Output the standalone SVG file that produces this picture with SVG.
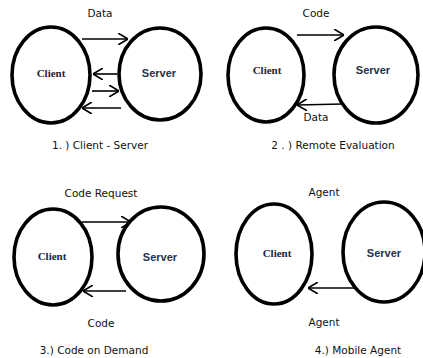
<svg xmlns="http://www.w3.org/2000/svg" width="423" height="358" viewBox="0 0 423 358">
  <style>
    .node { fill: none; stroke: #000; stroke-width: 3.6; }
    .client { font-family: "Liberation Serif", "DejaVu Serif", serif; font-weight: bold; font-size: 11px; fill: #1c2540; text-anchor: middle; }
    .server { font-family: "Liberation Sans", Arial, sans-serif; font-weight: bold; font-size: 11px; fill: #27314a; text-anchor: middle; }
    .label { font-family: "DejaVu Sans", Verdana, sans-serif; font-size: 10.5px; fill: #111; text-anchor: middle; }
    .conn line { stroke: #000; stroke-width: 1.6; marker-end: url(#arrow); }
  </style>
  <defs>
    <marker id="arrow" viewBox="0 0 10 12" markerWidth="10" markerHeight="12" refX="10" refY="6" orient="auto" markerUnits="userSpaceOnUse">
      <path d="M0,0 L10,6 L0,12" fill="none" stroke="#000" stroke-width="1.6"/>
    </marker>
  </defs>
  <rect width="423" height="358" fill="#fff"/>

  <!-- 1) Client - Server -->
  <g id="cs-client"><ellipse class="node" cx="51" cy="75" rx="39" ry="48"/><text class="client" x="51" y="77">Client</text></g>
  <g id="cs-server"><ellipse class="node" cx="160" cy="74" rx="41" ry="46"/><text class="server" x="159" y="77">Server</text></g>
  <g id="cs-connectors" class="conn">
    <line x1="82" y1="39" x2="128" y2="39"/>
    <line x1="117" y1="74" x2="93" y2="74"/>
    <line x1="92" y1="91" x2="119" y2="91"/>
    <line x1="121" y1="108" x2="82" y2="108"/>
  </g>
  <text class="label" x="100" y="17">Data</text>
  <text class="label" x="100" y="149">1. ) Client -  Server</text>

  <!-- 2) Remote Evaluation -->
  <g id="re-client"><ellipse class="node" cx="266" cy="75" rx="38" ry="47"/><text class="client" x="267" y="74">Client</text></g>
  <g id="re-server"><ellipse class="node" cx="376" cy="75" rx="42" ry="48"/><text class="server" x="373" y="74">Server</text></g>
  <g id="re-connectors" class="conn">
    <line x1="297" y1="35" x2="344" y2="35"/>
    <line x1="343" y1="104" x2="297" y2="105"/>
  </g>
  <text class="label" x="316" y="17">Code</text>
  <text class="label" x="316" y="121">Data</text>
  <text class="label" x="333" y="149">2 . ) Remote Evaluation</text>

  <!-- 3) Code on Demand -->
  <g id="cod-client"><ellipse class="node" cx="53" cy="257" rx="39" ry="48"/><text class="client" x="52" y="260">Client</text></g>
  <g id="cod-server"><ellipse class="node" cx="161" cy="254" rx="43" ry="47"/><text class="server" x="160" y="261">Server</text></g>
  <g id="cod-connectors" class="conn">
    <line x1="82" y1="222" x2="131" y2="222"/>
    <line x1="126" y1="291" x2="83" y2="291"/>
  </g>
  <text class="label" x="101" y="197">Code Request</text>
  <text class="label" x="101" y="327">Code</text>
  <text class="label" x="94" y="354">3.) Code on Demand</text>

  <!-- 4) Mobile Agent -->
  <g id="ma-client"><ellipse class="node" cx="274" cy="254" rx="38" ry="50"/><text class="client" x="277" y="257">Client</text></g>
  <g id="ma-server"><ellipse class="node" cx="384" cy="252" rx="41" ry="50"/><text class="server" x="384" y="257">Server</text></g>
  <g id="ma-connectors" class="conn">
    <line x1="354" y1="288" x2="308" y2="288"/>
  </g>
  <text class="label" x="324" y="196">Agent</text>
  <text class="label" x="324" y="326">Agent</text>
  <text class="label" x="358" y="354">4.) Mobile Agent</text>
</svg>
